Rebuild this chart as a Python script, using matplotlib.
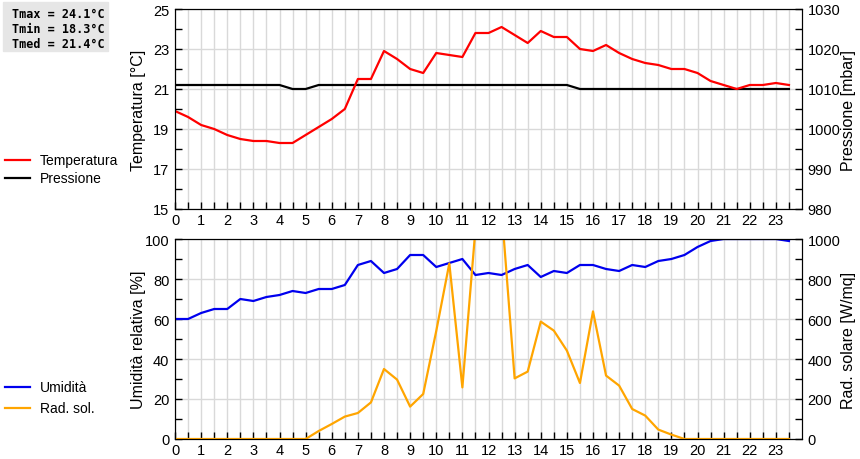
import numpy as np
import matplotlib
matplotlib.use('Agg')
import matplotlib.pyplot as plt
from matplotlib.ticker import MultipleLocator, FixedLocator

plt.rcParams['font.family'] = ['Liberation Sans', 'DejaVu Sans']

# half-hourly readings, 0:00 .. 23:30
ore = np.arange(0, 24, 0.5)

temperatura = [19.9, 19.6, 19.2, 19.0, 18.7, 18.5, 18.4, 18.4, 18.3, 18.3,
               18.7, 19.1, 19.5, 20.0, 21.5, 21.5, 22.9, 22.5, 22.0, 21.8,
               22.8, 22.7, 22.6, 23.8, 23.8, 24.1, 23.7, 23.3, 23.9, 23.6,
               23.6, 23.0, 22.9, 23.2, 22.8, 22.5, 22.3, 22.2, 22.0, 22.0,
               21.8, 21.4, 21.2, 21.0, 21.2, 21.2, 21.3, 21.2]

pressione = [1011, 1011, 1011, 1011, 1011, 1011, 1011, 1011, 1011, 1010,
             1010, 1011, 1011, 1011, 1011, 1011, 1011, 1011, 1011, 1011,
             1011, 1011, 1011, 1011, 1011, 1011, 1011, 1011, 1011, 1011,
             1011, 1010, 1010, 1010, 1010, 1010, 1010, 1010, 1010, 1010,
             1010, 1010, 1010, 1010, 1010, 1010, 1010, 1010]

umidita = [60, 60, 63, 65, 65, 70, 69, 71, 72, 74,
           73, 75, 75, 77, 87, 89, 83, 85, 92, 92,
           86, 88, 90, 82, 83, 82, 85, 87, 81, 84,
           83, 87, 87, 85, 84, 87, 86, 89, 90, 92,
           96, 99, 100, 100, 100, 100, 100, 99]

radiazione = [0, 0, 0, 0, 0, 0, 0, 0, 0, 0,
              0, 40, 75, 112, 130, 183, 350, 297, 162, 225,
              540, 878, 258, 1050, 1150, 1150, 303, 337, 587, 542,
              442, 280, 638, 317, 267, 150, 117, 47, 22, 0,
              0, 0, 0, 0, 0, 0, 0, 0]

tmax, tmin, tmed = 24.1, 18.3, 21.4

fig = plt.figure(figsize=(8.6, 4.6), dpi=100)
W, H = 860, 460


def box(x0, y0, x1, y1):
    return [x0 / W, 1 - y1 / H, (x1 - x0) / W, (y1 - y0) / H]


grid_col = '#d9d9d9'
tick_kw = dict(direction='in', length=5, width=1, labelsize=10.5)


def style_x(ax):
    ax.set_xlim(0, 24)
    ax.xaxis.set_major_locator(FixedLocator(range(24)))
    ax.set_xticks(np.arange(0, 24, 0.5), minor=True)
    ax.tick_params(axis='x', which='both', **tick_kw)
    ax.tick_params(axis='x', pad=3)


# ---- top panel: temperatura / pressione
ax_p = fig.add_axes(box(175, 10, 802, 210))
ax_t = ax_p.twinx()
# temperature scale goes on the left, pressure on the right
ax_t.yaxis.tick_left()
ax_t.yaxis.set_label_position('left')
ax_p.yaxis.tick_right()
ax_p.yaxis.set_label_position('right')

ax_p.set_zorder(1)
ax_t.set_zorder(2)
ax_t.patch.set_visible(False)

ax_p.plot(ore, pressione, color='black', lw=1.6)
ax_t.plot(ore, temperatura, color='red', lw=1.6)

ax_p.set_ylim(980, 1030)
ax_p.yaxis.set_major_locator(MultipleLocator(10))
ax_p.yaxis.set_minor_locator(MultipleLocator(5))
ax_t.set_ylim(15, 25)
ax_t.yaxis.set_major_locator(FixedLocator(range(15, 26, 2)))
ax_t.yaxis.set_minor_locator(MultipleLocator(1))
for a in (ax_p, ax_t):
    a.tick_params(axis='y', which='both', **tick_kw)
    a.tick_params(axis='y', pad=4)
style_x(ax_p)
ax_p.grid(True, which='major', axis='y', color=grid_col, lw=1)
ax_p.grid(True, which='both', axis='x', color=grid_col, lw=1)
ax_p.set_axisbelow(True)
ax_t.set_ylabel('Temperatura [°C]', fontsize=11.5)
ax_t.yaxis.set_label_coords(-0.047, 0.5)
ax_p.set_ylabel('Pressione [mbar]', fontsize=11.5)
ax_p.yaxis.set_label_coords(1.062, 0.5)

# ---- bottom panel: umidita / radiazione
ax_h = fig.add_axes(box(175, 240, 802, 440))
ax_r = ax_h.twinx()
ax_h.plot(ore, umidita, color='#0000ee', lw=1.6)
ax_r.plot(ore, radiazione, color='#ffa500', lw=1.6)
ax_h.set_ylim(0, 100)
ax_h.yaxis.set_major_locator(MultipleLocator(20))
ax_h.yaxis.set_minor_locator(MultipleLocator(10))
ax_r.set_ylim(0, 1000)
ax_r.yaxis.set_major_locator(MultipleLocator(200))
ax_r.yaxis.set_minor_locator(MultipleLocator(100))
for a in (ax_h, ax_r):
    a.tick_params(axis='y', which='both', **tick_kw)
    a.tick_params(axis='y', pad=4)
style_x(ax_h)
ax_h.grid(True, which='major', axis='y', color=grid_col, lw=1)
ax_h.grid(True, which='both', axis='x', color=grid_col, lw=1)
ax_h.set_axisbelow(True)
ax_h.set_ylabel('Umidità relativa [%]', fontsize=11.5)
ax_h.yaxis.set_label_coords(-0.047, 0.5)
ax_r.set_ylabel('Rad. solare [W/mq]', fontsize=11.5)
ax_r.yaxis.set_label_coords(1.062, 0.5)

# ---- left-hand legends
def leg(y, col, label):
    fig.add_artist(plt.Line2D([5 / W, 30 / W], [1 - y / H] * 2, color=col, lw=1.6))
    fig.text(40 / W, 1 - y / H, label, fontsize=10, va='center')

leg(161, 'red', 'Temperatura')
leg(179, 'black', 'Pressione')
leg(388, '#0000ee', 'Umidità')
leg(409, '#ffa500', 'Rad. sol.')

# ---- stats box
fig.patches.append(plt.Rectangle((3 / W, 1 - 52 / H), 105 / W, 49 / H,
                                 transform=fig.transFigure, color='#e6e6e6', zorder=0))
stats = [f'Tmax = {tmax:.1f}°C', f'Tmin = {tmin:.1f}°C', f'Tmed = {tmed:.1f}°C']
for i, s in enumerate(stats):
    fig.text(12 / W, 1 - (14 + 15.5 * i) / H, s, family='DejaVu Sans Mono',
             fontweight='bold', fontsize=8.5, va='center')

fig.savefig('out.png', dpi=100)
